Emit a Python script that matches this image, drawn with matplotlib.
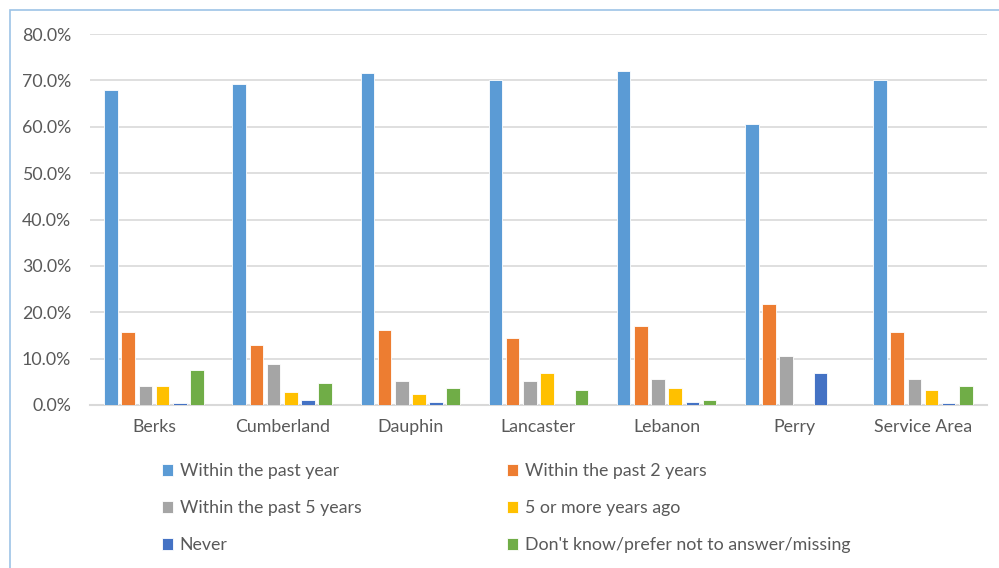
import matplotlib.pyplot as plt
import matplotlib.patches as mpatches
import numpy as np
from matplotlib.ticker import PercentFormatter

counties = ['Berks', 'Cumberland', 'Dauphin', 'Lancaster', 'Lebanon', 'Perry', 'Service Area']
past_year = [67.9, 69.3, 71.6, 70.2, 72.0, 60.6, 70.2]
past_2_years = [15.7, 12.9, 16.2, 14.4, 17.1, 21.7, 15.7]
past_5_years = [4.2, 8.8, 5.2, 5.2, 5.6, 10.6, 5.5]
five_plus_years = [4.2, 2.8, 2.4, 6.9, 3.7, 0.0, 3.2]
never = [0.5, 1.0, 0.6, 0.0, 0.6, 6.9, 0.5]
dont_know = [7.5, 4.7, 3.7, 3.2, 1.0, 0.0, 4.2]

series = [
    ('Within the past year', past_year, '#5B9BD5'),
    ('Within the past 2 years', past_2_years, '#ED7D31'),
    ('Within the past 5 years', past_5_years, '#A5A5A5'),
    ('5 or more years ago', five_plus_years, '#FFC000'),
    ('Never', never, '#4472C4'),
    ("Don't know/prefer not to answer/missing", dont_know, '#70AD47'),
]

plt.rcParams['font.family'] = ['Lato', 'DejaVu Sans']
text_color = '#595959'
font_size = 12.8

fig = plt.figure(figsize=(9.99, 5.68), dpi=100)
ax = fig.add_axes([0.09, 0.287, 0.898, 0.653])

x = np.arange(len(counties))
slot = 0.134
width = 0.106
handles = []
for i, (name, vals, color) in enumerate(series):
    offset = (i - 2.5) * slot
    bars = ax.bar(x + offset, vals, width, color=color, edgecolor='white',
                  linewidth=0.6, label=name, zorder=3)
    handles.append(bars)

ax.set_xlim(-0.5, len(counties) - 0.5)
ax.set_ylim(0, 80)
ax.set_yticks(np.arange(0, 81, 10))
ax.yaxis.set_major_formatter(PercentFormatter(decimals=1))
ax.set_xticks(x)
ax.set_xticklabels(counties)
ax.grid(axis='y', color='#D9D9D9', linewidth=1.2, zorder=0)
ax.tick_params(axis='both', length=0, labelsize=font_size, colors=text_color)
ax.tick_params(axis='x', pad=10)
ax.tick_params(axis='y', pad=13.5)
for side in ['top', 'right', 'left']:
    ax.spines[side].set_visible(False)
ax.spines['bottom'].set_color('#D9D9D9')
ax.spines['bottom'].set_linewidth(1.5)

# legend laid out row by row in two columns
order = [0, 2, 4, 1, 3, 5]
leg = fig.legend([handles[k] for k in order], [series[k][0] for k in order],
                 ncol=2, loc='upper left', bbox_to_anchor=(0.155, 0.197),
                 frameon=False, fontsize=font_size, handlelength=0.6, handleheight=0.6,
                 handletextpad=0.4, labelspacing=1.18, columnspacing=8.2,
                 borderaxespad=0)
for t in leg.get_texts():
    t.set_color(text_color)

# outer chart border
fig.patches.append(mpatches.Rectangle((0.01, -0.05), 1.2, 1.032, transform=fig.transFigure,
                                      fill=False, edgecolor='#9DC3E6', linewidth=1.2))

fig.savefig('out.png', dpi=100)
plt.close(fig)
